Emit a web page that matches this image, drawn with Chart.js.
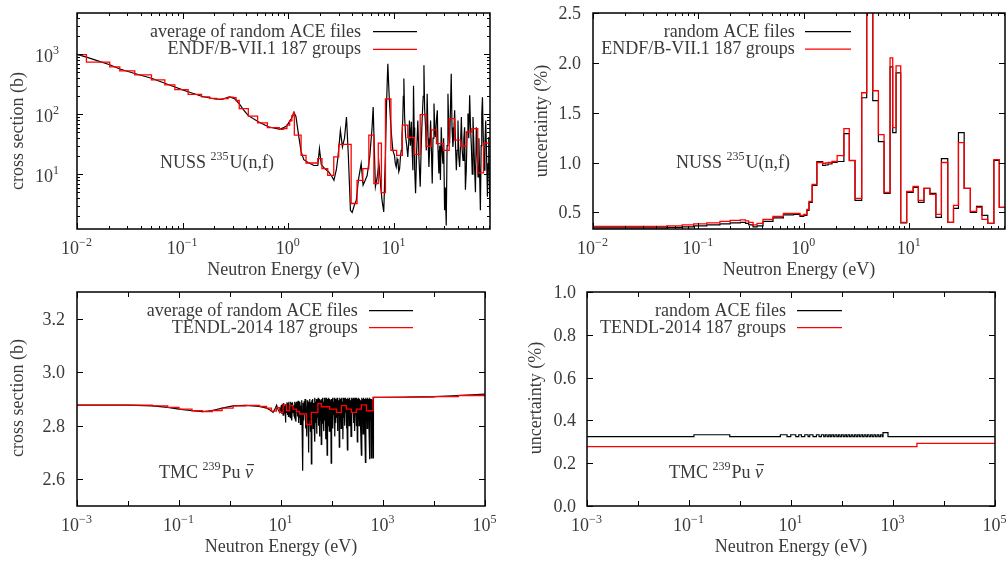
<!DOCTYPE html>
<html>
<head>
<meta charset="utf-8">
<script src="https://cdn.jsdelivr.net/npm/chart.js@4.4.1/dist/chart.umd.min.js"></script>
<style>
  html, body { margin: 0; padding: 0; background: #fff; }
  #wrap { position: relative; width: 1008px; height: 561px; }
  canvas { position: absolute; left: 0; top: 0; }
</style>
</head>
<body>
<div id="wrap">
  <canvas id="c1" width="1008" height="561"></canvas>
  <canvas id="c2" width="1008" height="561"></canvas>
  <canvas id="c3" width="1008" height="561"></canvas>
  <canvas id="c4" width="1008" height="561"></canvas>
</div>
<script>
// --- DATA: top-left, NUSS 235U(n,f) cross section (b) ---
const xsE = [0.01, 0.0123, 0.015, 0.0204, 0.0254, 0.0352, 0.0507, 0.0678, 0.0843, 0.1, 0.1127, 0.151, 0.2, 0.234, 0.28, 0.313, 0.348, 0.375, 0.418, 0.52, 0.646, 0.834, 0.965,
  1.07, 1.13, 1.18, 1.25, 1.32, 1.4, 1.55, 1.75, 1.9, 1.97, 2.05, 2.2, 2.4, 2.6, 2.7, 2.85, 2.95, 3.11, 3.25, 3.4, 3.55, 3.7, 3.87, 4.02, 4.2, 4.4, 4.6, 4.89, 5.1, 5.35, 5.57, 5.9, 6.2, 6.35, 6.5, 6.67, 6.9, 7.2, 7.5, 7.7, 8.0, 8.3, 8.5, 8.74, 9.0, 9.27, 9.5, 9.75,
  10.1, 10.3, 10.5, 10.7, 10.9, 11.1, 11.3, 11.5, 11.7, 11.9,
  12.1, 12.25, 12.4, 12.6, 12.9, 13.2, 13.5, 13.8, 14.0, 14.3,
  14.6, 14.85, 15.1, 15.3, 15.5, 15.6, 15.8, 16.0, 16.4, 16.8,
  17.2, 17.7, 18.1, 18.5, 18.9, 19.2, 19.5, 19.9, 20.2, 20.6,
  21.0, 21.4, 21.8, 22.2, 22.6, 23.0, 23.4, 23.9, 24.3, 24.7,
  25.2, 25.7, 26.1, 26.6, 27.1, 27.5, 28.0, 28.5, 29.0, 29.5,
  30.1, 30.6, 31.2, 31.8, 32.4, 33.0, 33.6, 34.2, 34.8, 35.4,
  36.1, 36.8, 37.5, 38.2, 38.9, 39.6, 40.3, 41.0, 41.8, 42.6,
  43.4, 44.2, 45.0, 45.8, 46.6, 47.4, 48.3, 49.2, 50.1, 51.0,
  52.0, 53.0, 54.0, 55.0, 55.9, 57.0, 58.0, 59.0, 60.1, 61.2,
  62.4, 63.6, 64.8, 65.7, 66.8, 67.7, 68.7, 70.0, 71.2, 72.5,
  73.8, 75.2, 76.6, 77.7, 78.8, 79.9, 81];
const xsAvg = [1000, 900, 800, 670, 570, 480, 400, 330, 285, 255, 238, 200, 180, 178, 195, 180, 145, 120, 95, 75, 62, 56, 64,
  85, 108, 92, 45, 24, 17.5, 15.5, 14, 14, 26.8, 14.5, 12.5, 11, 9, 7.9, 12, 19.5, 54, 28.5, 40, 90, 20, 2.5, 2.3, 3.0, 3.7, 8, 15, 6.6, 8, 9.5, 20, 60, 132, 30, 6.2, 8.5, 15, 6, 3.7, 2.35, 22, 150, 700, 200, 79, 42, 25,
  20.7, 15, 13.2, 18, 16, 11, 12.4, 19, 25, 45,
  79, 200, 394, 90, 42, 30, 19.5, 35, 79, 30,
  75, 25, 11.7, 300, 60, 54, 12, 4.8, 25, 79,
  20, 6.2, 30, 90, 200, 656, 120, 61, 25, 221,
  40, 13.2, 30, 79, 25, 7, 40, 151, 60, 42,
  80, 117, 25, 10.3, 30, 8, 61, 25, 15, 40,
  2.5, 6, 1.4, 30, 221, 60, 32.5, 120, 476, 60,
  28.5, 50, 117, 30, 11.7, 25, 79, 20, 13.2, 30,
  90, 25, 17, 40, 61, 5.5, 11.7, 50, 103, 40,
  207, 60, 28.5, 10, 90, 30, 11.7, 5, 61, 25,
  9, 40, 8, 2.5, 30, 100, 193, 40, 11.7, 30,
  79, 20, 4.2, 15, 42, 8, 2.5];
const xsGrpE = [0.01, 0.01228, 0.0204, 0.0254, 0.0352, 0.0507, 0.0678, 0.0843, 0.1127, 0.151, 0.18, 0.21, 0.24, 0.27, 0.30, 0.32, 0.343, 0.418, 0.512, 0.634, 0.821, 0.9, 0.97, 1.03, 1.08, 1.12, 1.14, 1.32, 1.47, 1.9, 2.08, 2.36, 2.69, 3.0, 3.93, 4.47, 5.07, 5.78, 6.45, 7.1, 7.6, 8.3, 9.35, 10.6, 12.0, 13.5, 15.6, 17.7, 20.2, 22.6, 25.2, 29.5, 33.3, 37.5, 42.7, 48.3, 54.5, 62, 70.3, 81];
const xsGrp = [990, 745, 620, 530, 455, 375, 310, 258, 215, 195, 184, 179, 182, 193, 190, 170, 124, 93, 72, 60, 56, 58, 66, 78, 95, 108, 45, 20.7, 15.4, 18.2, 12.4, 9.6, 19.5, 31.6, 3.25, 7.9, 12.4, 45, 7.0, 33, 4.95, 180, 25, 20.7, 66, 41, 21.5, 99, 29.3, 55, 32.5, 25, 85, 37, 29.3, 50.7, 57.7, 10.5, 33, 33];

// --- DATA: top-right, uncertainty (%) ---
const uncE = [0.01, 0.03, 0.05, 0.07, 0.09, 0.12, 0.16, 0.2, 0.25, 0.28, 0.3, 0.33, 0.36, 0.41, 0.51, 0.64, 0.8, 0.92, 1.0, 1.07, 1.12, 1.2, 1.33, 1.51, 1.6, 1.7, 1.85, 2.07, 2.4, 2.7, 3.06, 3.54, 3.95, 4.51, 5.1, 5.77, 6.58, 6.97, 7.5, 8.3, 9.46, 10.9, 12.2, 13.8, 15.7, 17.9, 20.2, 23.2, 26.3, 29.3, 33.2, 38, 43.5, 49, 55.6, 63.5, 71.5, 81];
const uncAce = [0.345, 0.345, 0.35, 0.355, 0.365, 0.375, 0.385, 0.395, 0.40, 0.39, 0.375, 0.355, 0.365, 0.41, 0.445, 0.475, 0.48, 0.46, 0.47, 0.52, 0.60, 0.77, 1.01, 0.97, 0.975, 0.985, 1.0, 1.01, 1.29, 1.02, 0.62, 1.65, 3.0, 1.62, 1.21, 0.69, 1.96, 1.30, 1.90, 0.395, 0.70, 0.75, 0.60, 0.74, 0.69, 0.45, 1.04, 0.40, 0.54, 1.30, 0.74, 0.50, 0.56, 0.47, 0.39, 1.02, 0.55, 0.55];
const uncEndf = [0.36, 0.36, 0.365, 0.375, 0.385, 0.395, 0.41, 0.42, 0.425, 0.415, 0.40, 0.375, 0.39, 0.43, 0.46, 0.49, 0.49, 0.47, 0.48, 0.53, 0.61, 0.78, 1.0, 0.99, 0.995, 1.0, 1.01, 1.07, 1.34, 1.02, 0.64, 1.70, 3.0, 1.72, 1.28, 0.70, 2.05, 1.35, 1.97, 0.40, 0.71, 0.76, 0.62, 0.74, 0.68, 0.48, 1.0, 0.40, 0.57, 1.20, 0.74, 0.51, 0.55, 0.43, 0.39, 1.03, 0.55, 0.55];

// --- DATA: bottom-left, TMC 239Pu nu-bar ---
const nuE = [0.001, 0.01, 0.03, 0.06, 0.1, 0.18, 0.29, 0.45, 0.7, 1.15, 2.0, 3.8, 5.2, 6.0, 7.0, 7.6, 8.2, 8.8, 9.4,
  10.0, 10.2, 10.4, 10.6, 10.8, 11.0, 11.2, 11.4, 11.6, 11.8,
  12.0, 12.2, 12.5, 12.8, 13.1, 13.4, 13.7, 14.0, 14.3, 14.6,
  14.9, 15.2, 15.5, 15.8, 16.1, 16.4, 16.8, 17.2, 17.6, 18.0,
  18.4, 18.8, 19.2, 19.6, 20.0, 20.4, 20.8, 21.2, 21.6, 22.0,
  22.5, 23.0, 23.5, 24.0, 24.5, 25.0, 25.5, 26.0, 26.6, 27.2,
  27.8, 28.4, 29.0, 29.6, 30.2, 30.8, 31.4, 32.0, 32.7, 33.4,
  34.1, 34.8, 35.5, 36.2, 37.0, 37.8, 38.6, 39.4, 40.2, 41.0,
  41.8, 42.7, 43.6, 44.5, 45.4, 46.3, 47.3, 48.3, 49.3, 50.3,
  51.3, 52.4, 53.5, 54.6, 55.7, 56.8, 58.0, 59.2, 60.4, 61.6,
  62.9, 64.2, 65.5, 66.8, 68.2, 69.6, 71.0, 72.5, 74.0, 75.5,
  77.0, 78.6, 80.2, 81.8, 83.5, 85.2, 87.0, 88.8, 90.6, 92.5,
  94.4, 96.3, 98.3, 100.3, 102.4, 104.5, 106.7, 108.9, 111.1, 113.4,
  115.7, 118.1, 120.5, 123.0, 125.5, 128.1, 130.7, 133.4, 136.1, 138.9,
  141.8, 144.7, 147.7, 150.7, 153.8, 157.0, 160.2, 163.5, 166.9, 170.3,
  173.8, 177.4, 181.0, 184.7, 188.5, 192.4, 196.4, 200.4, 204.5, 208.7,
  213.0, 217.4, 221.9, 226.5, 231.1, 235.9, 240.7, 245.7, 250.7, 255.9,
  261.1, 266.5, 272.0, 277.6, 283.3, 289.1, 295.0, 301.1, 307.3, 313.6,
  320.0, 326.6, 333.3, 340.2, 347.2, 354.3, 361.6, 369.0, 376.6, 384.3,
  392.2, 400.3, 408.5, 416.9, 425.5, 434.2, 443.1, 452.2, 461.5, 471.0,
  480.7, 490.6, 500.7, 511.0, 521.5, 532.2, 543.1, 554.3, 565.7, 577.3,
  589.2, 601.3, 613.7, 626.3, 640,
  650, 1000, 3000, 10000, 30000, 100000];
const nuAvg = [2.877, 2.877, 2.874, 2.869, 2.862, 2.856, 2.853, 2.857, 2.866, 2.874, 2.876, 2.872, 2.866, 2.86, 2.85, 2.862, 2.877, 2.86, 2.85,
  2.87, 2.845, 2.878, 2.85, 2.882, 2.84, 2.885, 2.855, 2.876, 2.845,
  2.87, 2.812, 2.88, 2.85, 2.888, 2.842, 2.884, 2.835, 2.89, 2.85,
  2.875, 2.83, 2.89, 2.845, 2.885, 2.82, 2.888, 2.85, 2.876, 2.838,
  2.89, 2.83, 2.884, 2.815, 2.89, 2.852, 2.882, 2.835, 2.893, 2.81,
  2.886, 2.83, 2.89, 2.805, 2.876, 2.84, 2.895, 2.78, 2.632, 2.885,
  2.82, 2.892, 2.84, 2.9, 2.79, 2.885, 2.83, 2.76, 2.895, 2.81,
  2.89, 2.70, 2.88, 2.82, 2.9, 2.78, 2.888, 2.657, 2.895, 2.83,
  2.9, 2.79, 2.885, 2.82, 2.905, 2.74, 2.89, 2.81, 2.9, 2.77,
  2.895, 2.83, 2.905, 2.8, 2.888, 2.76, 2.9, 2.82, 2.895, 2.73,
  2.9, 2.81, 2.905, 2.84, 2.89, 2.78, 2.905, 2.82, 2.895, 2.75,
  2.905, 2.83, 2.69, 2.9, 2.8, 2.905, 2.84, 2.78, 2.9, 2.82,
  2.895, 2.66, 2.9, 2.82, 2.905, 2.79, 2.89, 2.84, 2.905, 2.76,
  2.9, 2.81, 2.895, 2.83, 2.905, 2.78, 2.9, 2.84, 2.895, 2.72,
  2.905, 2.82, 2.9, 2.79, 2.905, 2.84, 2.89, 2.75, 2.905, 2.83,
  2.9, 2.8, 2.905, 2.85, 2.895, 2.79, 2.9, 2.71, 2.905, 2.83,
  2.9, 2.8, 2.905, 2.84, 2.895, 2.76, 2.905, 2.82, 2.9, 2.85,
  2.905, 2.81, 2.9, 2.78, 2.905, 2.84, 2.895, 2.8, 2.905, 2.74,
  2.9, 2.83, 2.905, 2.8, 2.9, 2.85, 2.895, 2.78, 2.69, 2.905,
  2.82, 2.9, 2.77, 2.905, 2.84, 2.9, 2.8, 2.663, 2.905, 2.83,
  2.9, 2.79, 2.905, 2.84, 2.9, 2.78, 2.675, 2.905, 2.82, 2.9,
  2.68, 2.9, 2.77, 2.895, 2.68,
  2.906, 2.906, 2.907, 2.909, 2.913, 2.918];
const nuGrpE = [0.001, 0.01, 0.03, 0.06, 0.1, 0.18, 0.29, 0.45, 0.7, 1.15, 2.0, 3.8, 5.2, 6.5, 8.1, 9.4, 11, 12.8, 14.8, 17.2, 20, 23.3, 31.5, 39.4, 53, 61.7, 90, 122, 153, 191, 240, 301, 377, 473, 637, 1000, 3000, 10000, 30000, 100000];
const nuGrp = [2.877, 2.877, 2.874, 2.869, 2.862, 2.856, 2.853, 2.857, 2.866, 2.874, 2.876, 2.872, 2.866, 2.855, 2.868, 2.85, 2.878, 2.856, 2.875, 2.862, 2.853, 2.844, 2.804, 2.85, 2.883, 2.871, 2.862, 2.85, 2.875, 2.862, 2.85, 2.862, 2.878, 2.856, 2.906, 2.906, 2.907, 2.909, 2.913, 2.918];

// --- DATA: bottom-right, nu-bar uncertainty (%) ---
const nuUncE = [0.001, 0.125, 0.63, 6.19, 8.36, 9.87, 12.4, 14.2, 16, 18.6, 21.6, 23.3, 27, 31.5, 35.5, 39.4, 43.8, 47, 51, 55, 59, 63, 68, 73, 79, 85, 91, 98, 106, 114, 122, 131, 141, 152, 163, 176, 189, 203, 219, 235, 253, 272, 293, 315, 339, 365, 392, 422, 454, 489, 526, 566, 610, 637, 798, 100000];
const nuUncAce = [0.324, 0.333, 0.324, 0.333, 0.324, 0.333, 0.324, 0.333, 0.324, 0.333, 0.324, 0.333, 0.324, 0.333, 0.324, 0.333, 0.324, 0.333, 0.324, 0.333, 0.324, 0.333, 0.324, 0.333, 0.324, 0.333, 0.324, 0.333, 0.324, 0.333, 0.324, 0.333, 0.324, 0.333, 0.324, 0.333, 0.324, 0.333, 0.324, 0.333, 0.324, 0.333, 0.324, 0.333, 0.324, 0.333, 0.324, 0.333, 0.324, 0.333, 0.324, 0.333, 0.324, 0.343, 0.324, 0.324];
const nuUncTendlE = [0.001, 2950, 100000];
const nuUncTendl = [0.277, 0.293, 0.293];

// --- TICKS & TEXT ---
const topTickE = [0.01, 0.1, 1, 10];
const topTickExp = ['\u22122', '\u22121', '0', '1'];
const xsTickY = [10, 100, 1000];
const xsTickExp = ['1', '2', '3'];
const uncTickY = [0.5, 1.0, 1.5, 2.0, 2.5];
const botTickE = [1e-3, 1e-1, 10, 1e3, 1e5];
const botTickExp = ['\u22123', '\u22121', '1', '3', '5'];
const botDecades = [1e-2, 1, 100, 1e4];
const nuTickY = [2.6, 2.8, 3.0, 3.2];
const nuUncTickY = [0, 0.2, 0.4, 0.6, 0.8, 1.0];

// --- DRAWING HELPERS ---
const FONT = '"Liberation Serif", "DejaVu Serif", serif';
const TXT = '#3a3a3a';
const fontFor = (k) => k === 's' ? `12px ${FONT}` : k === 'bar' ? `italic 18px ${FONT}` : `18px ${FONT}`;
const pts = (xs, ys) => xs.map((x, i) => ({ x, y: ys[i] }));

function partsWidth(ctx, parts) {
  let w = 0;
  parts.forEach(([t, k]) => { ctx.font = fontFor(k); w += ctx.measureText(t).width + (k === 's' ? 1 : 0); });
  return w;
}
function drawParts(ctx, parts, x, y) {
  let cx = x;
  parts.forEach(([t, k]) => {
    ctx.font = fontFor(k);
    const w = ctx.measureText(t).width;
    ctx.fillText(t, cx, k === 's' ? y - 8 : y);
    if (k === 'bar') ctx.fillRect(cx + 2, y - 14, w - 1, 1.2);
    cx += w + (k === 's' ? 1 : 0);
  });
}
function minorLog(min, max) {
  const out = [];
  for (let d = Math.floor(Math.log10(min)); d <= Math.ceil(Math.log10(max)); d++) {
    for (let m = 2; m <= 9; m++) { const v = m * Math.pow(10, d); if (v > min && v < max) out.push(v); }
  }
  return out;
}

const framePlugin = {
  id: 'frame',
  afterDatasetsDraw(chart, args, o) {
    const { ctx, chartArea: a } = chart;
    const sx = chart.scales.x, sy = chart.scales.y;
    ctx.save();
    ctx.strokeStyle = '#000';
    ctx.lineWidth = 1;
    ctx.beginPath();
    const xt = (v, len) => { const p = Math.round(sx.getPixelForValue(v)) + 0.5; ctx.moveTo(p, a.bottom); ctx.lineTo(p, a.bottom - len); ctx.moveTo(p, a.top); ctx.lineTo(p, a.top + len); };
    const yt = (v, len) => { const p = Math.round(sy.getPixelForValue(v)) + 0.5; ctx.moveTo(a.left, p); ctx.lineTo(a.left + len, p); ctx.moveTo(a.right, p); ctx.lineTo(a.right - len, p); };
    o.xTicks.forEach(v => xt(v, 6));
    (o.xMinor || []).forEach(v => xt(v, o.xMinorLen || 3));
    o.yTicks.forEach(v => yt(v, 6));
    (o.yMinor || []).forEach(v => yt(v, 3));
    ctx.stroke();
    ctx.lineWidth = 1.5;
    ctx.strokeRect(a.left, a.top, a.right - a.left, a.bottom - a.top);

    ctx.fillStyle = TXT;
    ctx.textBaseline = 'alphabetic';
    ctx.textAlign = 'left';
    // x tick labels
    o.xTicks.forEach((v, i) => {
      const parts = [['10', 'n'], [o.xExp[i], 's']];
      const w = partsWidth(ctx, parts);
      drawParts(ctx, parts, sx.getPixelForValue(v) - w / 2, a.bottom + 25);
    });
    // y tick labels
    o.yTicks.forEach((v, i) => {
      const py = sy.getPixelForValue(v);
      const parts = o.yExp ? [['10', 'n'], [o.yExp[i], 's']] : [[v.toFixed(1), 'n']];
      const w = partsWidth(ctx, parts);
      drawParts(ctx, parts, a.left - o.yLabelGap - w, py + (o.yExp ? 8 : 6));
    });
    // axis titles
    ctx.font = `18px ${FONT}`;
    ctx.textAlign = 'center';
    ctx.fillText(o.xTitle, (a.left + a.right) / 2, a.bottom + 46);
    ctx.save();
    ctx.translate(o.yTitleX, o.yTitleY);
    ctx.rotate(-Math.PI / 2);
    ctx.fillText(o.yTitle, 0, 0);
    ctx.restore();
    // legend
    ctx.textAlign = 'right';
    o.legend.items.forEach(([text, color], i) => {
      const ly = o.legend.y + i * o.legend.dy;
      ctx.fillStyle = TXT;
      ctx.font = `18px ${FONT}`;
      ctx.fillText(text, o.legend.right, ly + 5);
      ctx.strokeStyle = color;
      ctx.lineWidth = 1.2;
      ctx.beginPath();
      ctx.moveTo(o.legend.x0, ly);
      ctx.lineTo(o.legend.x1, ly);
      ctx.stroke();
    });
    // annotation
    ctx.textAlign = 'left';
    ctx.fillStyle = TXT;
    drawParts(ctx, o.note, o.noteX, o.noteY);
    ctx.restore();
  }
};

function makeChart(id, pad, xOpts, yOpts, datasets, frame) {
  return new Chart(document.getElementById(id), {
    type: 'line',
    data: { datasets },
    options: {
      responsive: false, animation: false, devicePixelRatio: 1, events: [],
      layout: { padding: pad },
      scales: {
        x: Object.assign({ display: false, bounds: 'data' }, xOpts),
        y: Object.assign({ display: false, bounds: 'data' }, yOpts)
      },
      elements: { point: { radius: 0 }, line: { tension: 0 } },
      plugins: { legend: { display: false }, tooltip: { enabled: false }, frame }
    },
    plugins: [framePlugin]
  });
}

const blackLine = (data, stepped) => ({ data, borderColor: '#000', borderWidth: 1.2, stepped: stepped || false, order: 1 });
const redLine = (data) => ({ data, borderColor: '#ff0000', borderWidth: 1.3, stepped: 'before', order: 0 });

const nussNote = [['NUSS ', 'n'], ['235', 's'], ['U(n,f)', 'n']];
const tmcNote = [['TMC ', 'n'], ['239', 's'], ['Pu ', 'n'], ['\u03bd', 'bar']];

// top-left
makeChart('c1', { left: 77, top: 13, right: 518, bottom: 332 },
  { type: 'logarithmic', min: 0.01, max: 81 },
  { type: 'logarithmic', min: 1.22, max: 4900 },
  [blackLine(pts(xsE, xsAvg)), redLine(pts(xsGrpE, xsGrp))],
  {
    xTicks: topTickE, xExp: topTickExp, xMinor: minorLog(0.01, 81),
    yTicks: xsTickY, yExp: xsTickExp, yMinor: minorLog(1.22, 4900), yLabelGap: 17,
    xTitle: 'Neutron Energy (eV)', yTitle: 'cross section (b)', yTitleX: 23, yTitleY: 131,
    legend: { right: 361, x0: 373, x1: 417, y: 31.7, dy: 17.6, items: [['average of random ACE files', '#000'], ['ENDF/B-VII.1 187 groups', '#ff0000']] },
    note: nussNote, noteX: 160, noteY: 168
  });

// top-right
makeChart('c2', { left: 593, top: 13, right: 3, bottom: 332 },
  { type: 'logarithmic', min: 0.01, max: 81 },
  { type: 'linear', min: 0.333, max: 2.5 },
  [blackLine(pts(uncE, uncAce), 'before'), redLine(pts(uncE, uncEndf))],
  {
    xTicks: topTickE, xExp: topTickExp, xMinor: minorLog(0.01, 81),
    yTicks: uncTickY, yLabelGap: 12,
    xTitle: 'Neutron Energy (eV)', yTitle: 'uncertainty (%)', yTitleX: 547, yTitleY: 121,
    legend: { right: 794.7, x0: 805, x1: 851, y: 31.7, dy: 17.4, items: [['random ACE files', '#000'], ['ENDF/B-VII.1 187 groups', '#ff0000']] },
    note: nussNote, noteX: 676, noteY: 168
  });

// bottom-left
makeChart('c3', { left: 77, top: 292, right: 523, bottom: 55 },
  { type: 'logarithmic', min: 1e-3, max: 1e5 },
  { type: 'linear', min: 2.5, max: 3.3 },
  [blackLine(pts(nuE, nuAvg)), redLine(pts(nuGrpE, nuGrp))],
  {
    xTicks: botTickE, xExp: botTickExp, xMinor: botDecades, xMinorLen: 5,
    yTicks: nuTickY, yLabelGap: 12,
    xTitle: 'Neutron Energy (eV)', yTitle: 'cross section (b)', yTitleX: 23, yTitleY: 398,
    legend: { right: 357.7, x0: 369, x1: 413, y: 310.7, dy: 17, items: [['average of random ACE files', '#000'], ['TENDL-2014 187 groups', '#ff0000']] },
    note: tmcNote, noteX: 159, noteY: 478
  });

// bottom-right
makeChart('c4', { left: 587, top: 292, right: 13, bottom: 55 },
  { type: 'logarithmic', min: 1e-3, max: 1e5 },
  { type: 'linear', min: 0, max: 1 },
  [blackLine(pts(nuUncE, nuUncAce), 'before'), redLine(pts(nuUncTendlE, nuUncTendl))],
  {
    xTicks: botTickE, xExp: botTickExp, xMinor: botDecades, xMinorLen: 5,
    yTicks: nuUncTickY, yLabelGap: 11,
    xTitle: 'Neutron Energy (eV)', yTitle: 'uncertainty (%)', yTitleX: 541, yTitleY: 398,
    legend: { right: 786, x0: 797, x1: 842, y: 310.7, dy: 17, items: [['random ACE files', '#000'], ['TENDL-2014 187 groups', '#ff0000']] },
    note: tmcNote, noteX: 669, noteY: 478
  });
</script>
</body>
</html>
